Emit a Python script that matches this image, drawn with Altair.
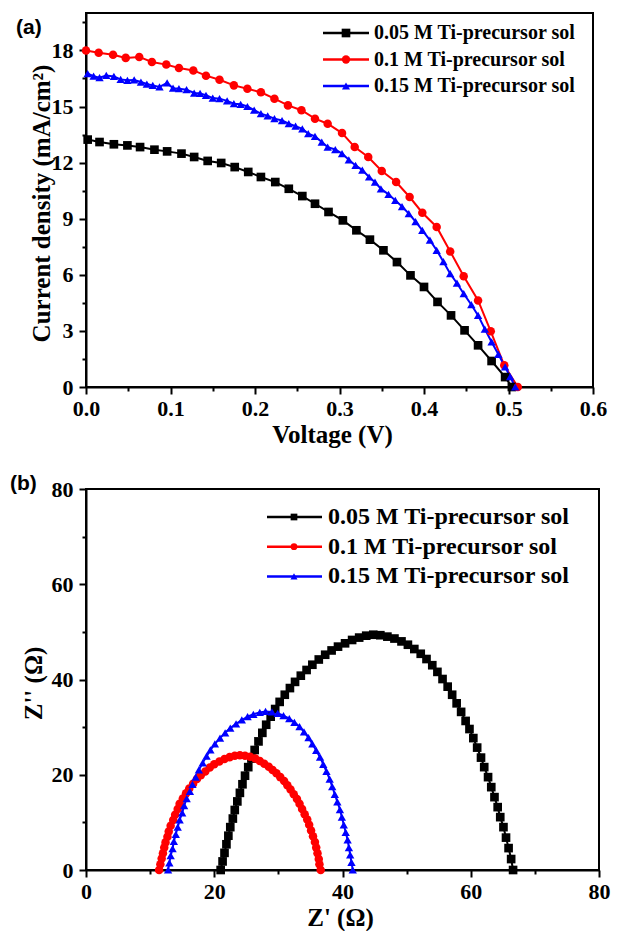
import altair as alt
import pandas as pd

# ---------------- data ----------------
names = ["0.05 M Ti-precursor sol", "0.1 M Ti-precursor sol", "0.15 M Ti-precursor sol"]
colors = ["#000000", "#ff0000", "#0000ff"]
shapes = ["square", "circle", "triangle-up"]

# (a) J-V curves
v_005 = [0.002, 0.016, 0.033, 0.049, 0.064, 0.081, 0.096, 0.113, 0.128, 0.144, 0.160, 0.176,
         0.192, 0.207, 0.224, 0.240, 0.256, 0.271, 0.287, 0.304, 0.320, 0.336, 0.352, 0.368,
         0.384, 0.400, 0.416, 0.432, 0.448, 0.464, 0.480, 0.496, 0.504]
j_005 = [13.23, 13.10, 12.98, 12.92, 12.83, 12.69, 12.60, 12.48, 12.30, 12.09, 11.98, 11.76,
         11.50, 11.23, 10.96, 10.60, 10.21, 9.80, 9.36, 8.91, 8.38, 7.88, 7.31, 6.68,
         5.97, 5.35, 4.55, 3.83, 3.03, 2.23, 1.39, 0.53, 0.00]

v_01 = [0.000, 0.015, 0.032, 0.047, 0.063, 0.078, 0.095, 0.110, 0.127, 0.142, 0.158, 0.175,
        0.191, 0.207, 0.223, 0.239, 0.255, 0.271, 0.286, 0.303, 0.318, 0.334, 0.350, 0.367,
        0.383, 0.398, 0.415, 0.431, 0.447, 0.464, 0.479, 0.495, 0.511]
j_01 = [18.00, 17.88, 17.77, 17.60, 17.65, 17.38, 17.24, 17.06, 16.93, 16.65, 16.43, 16.13,
        15.95, 15.76, 15.42, 15.06, 14.80, 14.35, 14.08, 13.58, 12.83, 12.30, 11.55, 10.96,
        10.16, 9.32, 8.56, 7.25, 5.92, 4.63, 2.98, 1.16, 0.00]

v_015 = [0.002, 0.009, 0.016, 0.024, 0.033, 0.041, 0.049, 0.057, 0.065, 0.072, 0.079, 0.087,
         0.096, 0.103, 0.110, 0.119, 0.128, 0.135, 0.142, 0.150, 0.158, 0.167, 0.175, 0.183,
         0.191, 0.199, 0.207, 0.215, 0.223, 0.232, 0.240, 0.248, 0.256, 0.263, 0.271, 0.279,
         0.286, 0.295, 0.303, 0.311, 0.319, 0.327, 0.335, 0.342, 0.349, 0.358, 0.366, 0.374,
         0.382, 0.390, 0.398, 0.407, 0.415, 0.423, 0.431, 0.439, 0.447, 0.456, 0.464, 0.472,
         0.480, 0.488, 0.496, 0.502, 0.508]
j_015 = [16.76, 16.62, 16.54, 16.66, 16.61, 16.45, 16.40, 16.42, 16.31, 16.20, 16.13, 16.05,
         16.26, 15.98, 15.95, 15.90, 15.72, 15.70, 15.60, 15.45, 15.42, 15.30, 15.15, 15.12,
         15.00, 14.80, 14.62, 14.50, 14.35, 14.25, 14.08, 13.95, 13.80, 13.55, 13.40, 13.10,
         12.83, 12.70, 12.48, 12.15, 11.85, 11.60, 11.23, 10.95, 10.60, 10.30, 9.98, 9.65,
         9.27, 8.85, 8.38, 7.85, 7.31, 6.70, 6.06, 5.55, 4.99, 4.40, 3.83, 3.10,
         2.41, 1.75, 1.07, 0.55, 0.00]

# (b) Nyquist plots
zr_005 = [21.0, 21.3, 21.6, 21.9, 22.2, 22.5, 22.9, 23.2, 23.6, 24.0, 24.4, 24.8, 25.3, 25.8,
          26.3, 26.9, 27.5, 28.1, 28.8, 29.5, 30.2, 31.0, 31.8, 32.6, 33.5, 34.4, 35.3, 36.3,
          37.3, 38.3, 39.3, 40.4, 41.5, 42.6, 43.7, 44.8, 45.9, 47.0, 48.1, 49.2, 50.2, 51.2,
          52.2, 53.1, 54.0, 54.8, 55.6, 56.4, 57.1, 57.8, 58.5, 59.2, 59.8, 60.4, 61.0, 61.6,
          62.1, 62.7, 63.2, 63.7, 64.2, 64.6, 65.1, 65.5, 65.9, 66.3, 66.6]
zi_005 = [0.0, 1.8, 3.6, 5.4, 7.2, 9.0, 10.8, 12.6, 14.4, 16.2, 18.0, 19.8, 21.6, 23.4,
          25.2, 27.0, 28.8, 30.5, 32.2, 33.8, 35.3, 36.8, 38.2, 39.5, 40.8, 42.0, 43.1, 44.2,
          45.2, 46.1, 46.9, 47.6, 48.3, 48.8, 49.2, 49.4, 49.3, 49.0, 48.6, 48.0, 47.3, 46.4,
          45.4, 44.3, 43.0, 41.6, 40.1, 38.5, 36.8, 35.0, 33.2, 31.3, 29.6, 27.7, 25.7, 23.6,
          21.6, 19.5, 17.4, 15.3, 13.2, 11.1, 9.0, 6.8, 4.6, 2.3, 0.0]

zr_01 = [11.4, 11.6, 11.8, 12.0, 12.2, 12.4, 12.7, 12.9, 13.2, 13.6, 13.9, 14.3, 14.6, 15.1,
         15.6, 16.1, 16.7, 17.3, 17.9, 18.6, 19.3, 20.0, 20.8, 21.6, 22.4, 23.2, 24.0, 24.8,
         25.6, 26.4, 27.1, 27.8, 28.5, 29.1, 29.7, 30.3, 30.9, 31.4, 31.9, 32.4, 32.9, 33.3,
         33.7, 34.1, 34.5, 34.8, 35.1, 35.4, 35.7, 35.9, 36.1, 36.3, 36.4, 36.6]
zi_01 = [0.0, 1.2, 2.4, 3.5, 4.7, 5.8, 7.0, 8.1, 9.3, 10.5, 11.6, 12.8, 13.9, 15.0,
         16.1, 17.1, 18.1, 19.1, 19.9, 20.7, 21.5, 22.2, 22.8, 23.3, 23.7, 24.0, 24.1, 24.0,
         23.8, 23.4, 22.9, 22.3, 21.7, 21.0, 20.3, 19.5, 18.7, 17.8, 16.9, 15.9, 14.9, 13.9,
         12.8, 11.7, 10.6, 9.5, 8.3, 7.1, 5.9, 4.7, 3.5, 2.3, 1.2, 0.0]

zr_015 = [12.8, 13.0, 13.2, 13.5, 13.7, 14.0, 14.3, 14.6, 15.0, 15.3, 15.7, 16.2, 16.6, 17.1,
          17.6, 18.2, 18.8, 19.4, 20.1, 20.9, 21.7, 22.5, 23.4, 24.3, 25.2, 26.1, 27.1, 28.0,
          29.0, 29.9, 30.8, 31.7, 32.5, 33.3, 34.0, 34.7, 35.3, 35.9, 36.5, 37.0, 37.5, 38.0,
          38.4, 38.8, 39.2, 39.6, 39.9, 40.2, 40.5, 40.8, 41.0, 41.2, 41.4, 41.6]
zi_015 = [0.0, 1.5, 3.0, 4.5, 6.0, 7.5, 9.0, 10.5, 12.0, 13.5, 15.0, 16.5, 18.0, 19.5,
          21.0, 22.5, 23.9, 25.2, 26.5, 27.7, 28.8, 29.8, 30.7, 31.5, 32.2, 32.7, 33.1, 33.3,
          33.2, 32.9, 32.4, 31.8, 31.0, 30.1, 29.0, 27.8, 26.5, 25.1, 23.7, 22.2, 20.7, 19.1,
          17.5, 15.9, 14.3, 12.7, 11.1, 9.5, 7.9, 6.3, 4.7, 3.2, 1.6, 0.0]

# tick positions (major + minor)
ticks_a_x = [0.0, 0.05, 0.1, 0.15, 0.2, 0.25, 0.3, 0.35, 0.4, 0.45, 0.5, 0.55, 0.6]
ticks_a_y = [0, 1.5, 3, 4.5, 6, 7.5, 9, 10.5, 12, 13.5, 15, 16.5, 18, 19.5]
ticks_b = [0, 10, 20, 30, 40, 50, 60, 70, 80]


def frame(xs_list, ys_list, xn, yn):
    rows = []
    for name, xs, ys in zip(names, xs_list, ys_list):
        for i, (xv, yv) in enumerate(zip(xs, ys)):
            rows.append({xn: xv, yn: yv, "series": name, "i": i})
    return pd.DataFrame(rows)


df_a = frame([v_005, v_01, v_015], [j_005, j_01, j_015], "V", "J")
df_b = frame([zr_005, zr_01, zr_015], [zi_005, zi_01, zi_015], "Zr", "Zi")

SERIF = "Liberation Serif"


def make_axis(values, title, major_test, fmt, lab_size, title_x, title_y, angle, lab_pad):
    return alt.Axis(
        values=values, title=title, grid=False,
        labelExpr=f"({major_test}) ? format(datum.value, '{fmt}') : ''",
        tickSize={"condition": {"test": major_test, "value": 7}, "value": 4},
        tickWidth=2, tickColor="black",
        domainColor="black", domainWidth=2,
        labelFont=SERIF, labelFontWeight="bold", labelFontSize=lab_size,
        labelColor="black", labelPadding=lab_pad, labelOverlap=False, labelFlush=False,
        titleFont=SERIF, titleFontWeight="bold", titleFontSize=25, titleColor="black",
        titleX=title_x, titleY=title_y, titleAlign="center", titleBaseline="middle",
        titleAngle=angle,
    )


def panel(df, xf, yf, xdom, ydom, xaxis, yaxis, w, h, sizes, legend, tag):
    color = alt.Color("series:N", scale=alt.Scale(domain=names, range=colors), legend=None)
    shape = alt.Shape("series:N", scale=alt.Scale(domain=names, range=shapes), legend=None)
    size = alt.Size("series:O", scale=alt.Scale(domain=names, range=sizes), legend=None)
    x = alt.X(f"{xf}:Q", scale=alt.Scale(domain=xdom, nice=False, zero=False), axis=xaxis)
    y = alt.Y(f"{yf}:Q", scale=alt.Scale(domain=ydom, nice=False, zero=False), axis=yaxis)
    base = alt.Chart(df)
    lines = base.mark_line(strokeWidth=2).encode(x=x, y=y, color=color, detail="series:N", order="i:Q")
    pts = base.mark_point(filled=True, opacity=1).encode(x=x, y=y, color=color, shape=shape, size=size)
    layers = [lines, pts]
    lx0, lx1, lxm, ltx, ly0, ldy, lfs = legend
    for k, name in enumerate(names):
        yy = ly0 + k * ldy
        d = alt.Chart(pd.DataFrame({"s": [name]}))
        layers.append(d.mark_rule(color=colors[k], strokeWidth=2.5).encode(
            x=alt.value(lx0), x2=alt.value(lx1), y=alt.value(yy)))
        layers.append(d.mark_point(shape=shapes[k], filled=True, color=colors[k], opacity=1,
                                   size=sizes[k]).encode(x=alt.value(lxm), y=alt.value(yy)))
        layers.append(d.mark_text(align="left", baseline="middle", font=SERIF, fontWeight="bold",
                                  fontSize=lfs, color="black").encode(
            x=alt.value(ltx), y=alt.value(yy), text="s:N"))
    ttext, tx, ty = tag
    layers.append(alt.Chart(pd.DataFrame({"t": [ttext]})).mark_text(
        align="left", baseline="middle", font="Liberation Sans", fontWeight="bold",
        fontSize=21, color="black").encode(x=alt.value(tx), y=alt.value(ty), text="t:N"))
    return alt.layer(*layers).properties(width=w, height=h)


test_ax = "abs(datum.value*10 - round(datum.value*10)) < 0.001"
test_ay = "abs(datum.value/3 - round(datum.value/3)) < 0.001"
test_b = "abs(datum.value/20 - round(datum.value/20)) < 0.001"

chart_a = panel(
    df_a, "V", "J", [0, 0.6], [0, 20],
    make_axis(ticks_a_x, "Voltage (V)", test_ax, ".1f", 22, 246, 47, 0, 4),
    make_axis(ticks_a_y, "Current density (mA/cm²)", test_ay, "d", 22, -45, 190, 270, 6),
    507, 374, [75, 70, 65],
    (237, 283, 260, 288, 20, 26.5, 20),
    ("(a)", -70, 15),
)

chart_b = panel(
    df_b, "Zr", "Zi", [0, 80], [0, 80],
    make_axis(ticks_b, "Z' (Ω)", test_b, "d", 22, 254, 47, 0, 4),
    make_axis(ticks_b, "Z'' (Ω)", test_b, "d", 22, -53, 194, 270, 6),
    513, 381, [45, 45, 50],
    (181, 236, 208, 242, 28, 29.7, 24),
    ("(b)", -76, -5),
)

chart = alt.vconcat(chart_a, chart_b, spacing=24).properties(
    padding={"left": 1, "top": 2, "right": 0, "bottom": 0}
).configure_view(stroke="black", strokeWidth=2)

chart.save("out.html", embed_options={"renderer": "svg", "actions": False})
